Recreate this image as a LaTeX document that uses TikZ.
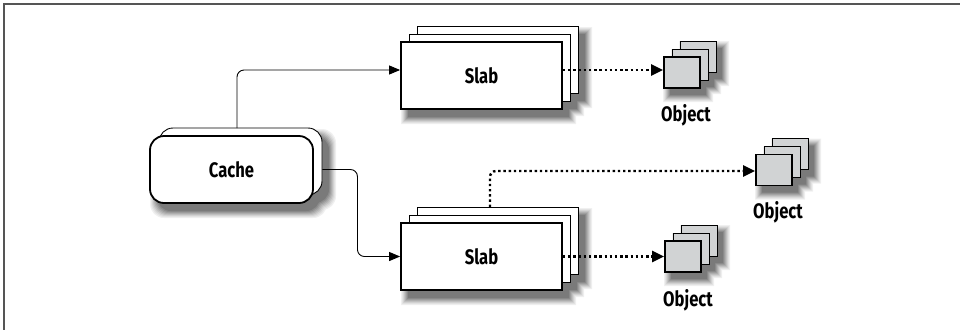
\documentclass[tikz,border=0pt]{standalone}
\usepackage{fontspec}
\setmainfont{Fira Sans}[FakeStretch=0.79]
\usetikzlibrary{arrows.meta,calc}
\definecolor{objfill}{HTML}{D1D3D4}
\definecolor{framecol}{HTML}{555555}
\newcommand{\stackshadow}[7]{% #1,#2 top-left of front; #3,#4 bottom-right of front; #5 dx; #6 dy; #7 options
  \foreach \k/\c in {7/6,6/11,5/17,4/24,3/31,2/38,1/45,0/52}{
    \fill[black!\c,#7] ({#1+#5-\k},{#2+#6-\k}) rectangle ({#3+#5+\k},{#4+#6+\k})
      ({#1+#5+8-\k},{#2+#6-8-\k}) rectangle ({#3+#5+8+\k},{#4+#6-8+\k})
      ({#1+#5+16-\k},{#2+#6-16-\k}) rectangle ({#3+#5+16+\k},{#4+#6-16+\k});
  }}
\newcommand{\cacheshadow}[6]{%
  \foreach \k/\c in {7/6,6/11,5/17,4/24,3/31,2/38,1/45,0/52}{
    \fill[black!\c,rounded corners=14pt] ({#1+#5-\k},{#2+#6-\k}) rectangle ({#3+#5+\k},{#4+#6+\k})
      ({#1+#5+9-\k},{#2+#6-8-\k}) rectangle ({#3+#5+9+\k},{#4+#6-8+\k});
  }}
\begin{document}
\begin{tikzpicture}[x=1pt,y=-1pt,
  lbl/.style={font=\bfseries\fontsize{21}{23}\selectfont, inner sep=0pt},
  slabfront/.style={draw, line width=1.8pt, fill=white, minimum width=161pt, minimum height=67pt, inner sep=0pt, lbl},
  slabback/.style={draw, line width=0.9pt, fill=white, minimum width=161pt, minimum height=67pt, inner sep=0pt},
  cachefront/.style={slabfront, minimum width=163pt, rounded corners=14pt},
  cacheback/.style={slabback, minimum width=163pt, rounded corners=14pt},
  objfront/.style={draw, line width=1.8pt, fill=objfill, minimum width=36pt, minimum height=31pt, inner sep=0pt},
  objback/.style={draw, line width=0.9pt, fill=objfill, minimum width=36pt, minimum height=31pt, inner sep=0pt},
  conn/.style={line width=0.9pt, rounded corners=7pt, -{Triangle[length=11pt,width=9pt]}},
  dotconn/.style={line width=2.4pt, dash pattern=on 2.4pt off 2.8pt, rounded corners=6pt, -{Triangle[length=12pt,width=11pt]}}
]
\useasboundingbox (0,0) rectangle (960,330);
% frame
\draw[line width=1.5pt, framecol] (3,4) -- (960,4);
\draw[line width=1.5pt, framecol] (4,4) -- (4,330);

% shadows
\cacheshadow{150}{136}{313}{203}{7}{8}
\stackshadow{401}{42}{562}{109}{7}{8}{}
\stackshadow{401}{223}{562}{290}{7}{8}{}
\stackshadow{664}{57}{700}{88}{6}{7}{}
\stackshadow{756}{154.5}{792}{185.5}{6}{7}{}
\stackshadow{665}{241}{701}{272}{6}{7}{}

% cache
\node[cacheback] (cb) at (240.5,161.5) {};
\node[cachefront] (cf) at (231.5,169.5) {Cache};

% top slab
\node[slabback] (s1c) at (497.5,59.5) {};
\node[slabback] (s1b) at (489.5,67.5) {};
\node[slabfront] (s1) at (481.5,75.5) {Slab};

% lower slab
\node[slabback] (s2c) at (497.5,240.5) {};
\node[slabback] (s2b) at (489.5,248.5) {};
\node[slabfront] (s2) at (481.5,256.5) {Slab};

% objects
\node[objback] (o1c) at (698,56.5) {};
\node[objback] (o1b) at (690,64.5) {};
\node[objfront] (o1) at (682,72.5) {};
\node[lbl] (l1) at (686,115) {Object};

\node[objback] (o2c) at (790,154) {};
\node[objback] (o2b) at (782,162) {};
\node[objfront] (o2) at (774,170) {};
\node[lbl] (l2) at (778,212) {Object};

\node[objback] (o3c) at (699,240.5) {};
\node[objback] (o3b) at (691,248.5) {};
\node[objfront] (o3) at (683,256.5) {};
\node[lbl] (l3) at (688,300) {Object};

% connectors
\coordinate (c1) at (237,128);
\draw[conn] (c1) |- ($(s1.west)+(0,-5.5)$);
\draw[conn] (cf.east -| cb.east) -- ++(35,0) |- (s2.west);

\draw[dotconn] ($(s1.east)+(0,-5.5)$) -- ($(o1.west)+(0,-2.5)$);
\coordinate (c2) at (490,207);
\draw[dotconn] (c2) |- ($(o2.west)+(0,1)$);
\draw[dotconn] (s2.east) -- (o3.west);
\end{tikzpicture}
\end{document}
